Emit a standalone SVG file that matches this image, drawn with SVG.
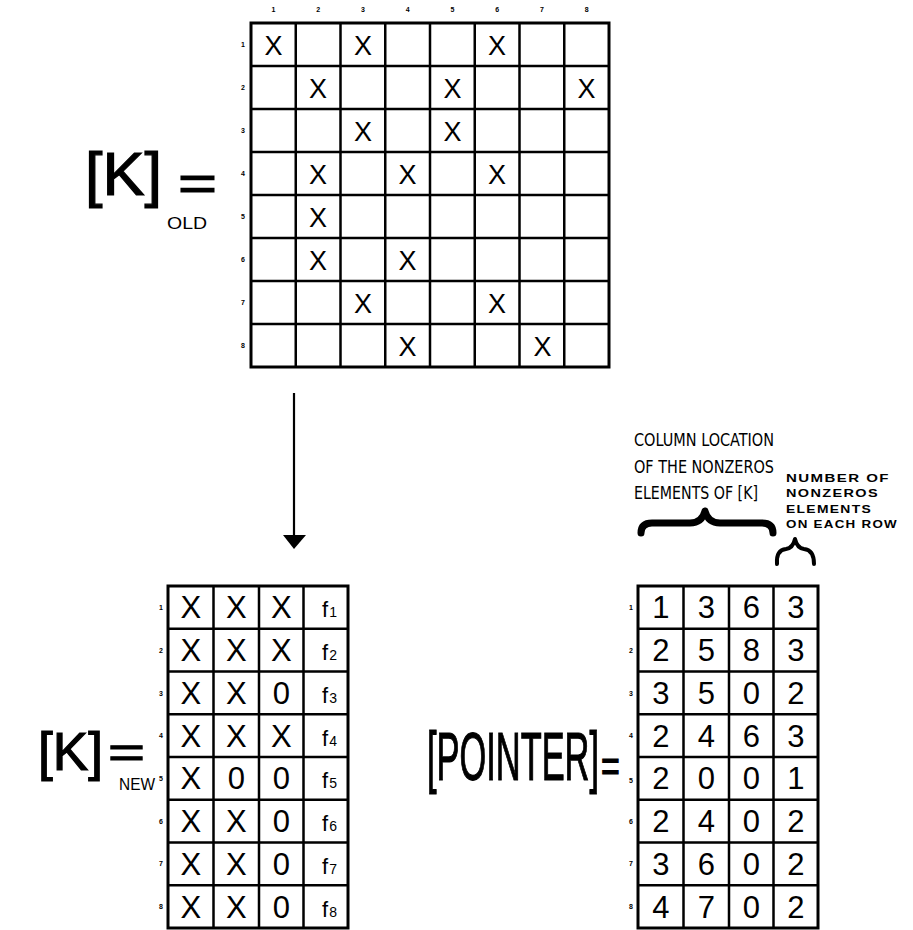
<svg xmlns="http://www.w3.org/2000/svg" width="913" height="930" viewBox="0 0 913 930">
<style>
text{font-family:"Liberation Sans",Arial,sans-serif;fill:#000}
.g{fill:none;stroke:#000;stroke-width:2.5}
.o{fill:none;stroke:#000;stroke-width:3}
.x{font-size:27px;text-anchor:middle}
.v{font-size:31px;text-anchor:middle}
.n{font-size:7px;font-weight:bold;text-anchor:middle}
.f{font-size:22px}
.s{font-size:14px}
.c{font-family:"DejaVu Sans Condensed","Liberation Sans",sans-serif;font-size:18px}
.w{font-size:10.5px;font-weight:bold;letter-spacing:1px}
.big{stroke:#000;stroke-width:1.2}
</style>

<g id="label-k-old">
<text class="big" x="85" y="195" font-size="62" textLength="77" lengthAdjust="spacingAndGlyphs">[K]</text>
<text class="big" x="178" y="200" font-size="50" textLength="39" lengthAdjust="spacingAndGlyphs">=</text>
<text x="167" y="229" font-size="16" textLength="40" lengthAdjust="spacingAndGlyphs">OLD</text>
</g>

<g id="k-old">
<rect class="o" x="251" y="23" width="358" height="344"/>
<path class="g" d="M295.75 23V367M340.5 23V367M385.25 23V367M430 23V367M474.75 23V367M519.5 23V367M564.25 23V367M251 66H609M251 109H609M251 152H609M251 195H609M251 238H609M251 281H609M251 324H609"/>
<g class="n">
<text x="273.4" y="12">1</text><text x="318.1" y="12">2</text><text x="362.9" y="12">3</text><text x="407.6" y="12">4</text><text x="452.4" y="12">5</text><text x="497.1" y="12">6</text><text x="541.9" y="12">7</text><text x="586.6" y="12">8</text>
<text x="243" y="47">1</text><text x="243" y="90">2</text><text x="243" y="133">3</text><text x="243" y="176">4</text><text x="243" y="219">5</text><text x="243" y="262">6</text><text x="243" y="305">7</text><text x="243" y="348">8</text>
</g>
<g class="x">
<text x="273.4" y="54.5">X</text><text x="362.9" y="54.5">X</text><text x="497.1" y="54.5">X</text>
<text x="318.1" y="97.5">X</text><text x="452.4" y="97.5">X</text><text x="586.6" y="97.5">X</text>
<text x="362.9" y="140.5">X</text><text x="452.4" y="140.5">X</text>
<text x="318.1" y="183.5">X</text><text x="407.6" y="183.5">X</text><text x="497.1" y="183.5">X</text>
<text x="318.1" y="226.5">X</text>
<text x="318.1" y="269.5">X</text><text x="407.6" y="269.5">X</text>
<text x="362.9" y="312.5">X</text><text x="497.1" y="312.5">X</text>
<text x="407.6" y="355.5">X</text><text x="542.4" y="355.5">X</text>
</g>
</g>

<g id="connectors">
<line x1="294" y1="393" x2="294" y2="536" stroke="#000" stroke-width="2.2"/>
<polygon points="283,535 306,535 294,549" fill="#000"/>
</g>

<g id="label-k-new">
<text class="big" x="38" y="770" font-size="54" textLength="65" lengthAdjust="spacingAndGlyphs">[K]</text>
<text class="big" x="108" y="767" font-size="45" textLength="37" lengthAdjust="spacingAndGlyphs">=</text>
<text x="119" y="790" font-size="16" textLength="36" lengthAdjust="spacingAndGlyphs">NEW</text>
</g>

<g id="k-new">
<rect class="o" x="168" y="586" width="180" height="342"/>
<path class="g" d="M213.5 586V928M259 586V928M303.5 586V928M168 628.75H348M168 671.5H348M168 714.25H348M168 757H348M168 799.75H348M168 842.5H348M168 885.25H348"/>
<g class="n">
<text x="161" y="610">1</text><text x="161" y="653">2</text><text x="161" y="696">3</text><text x="161" y="738">4</text><text x="161" y="781">5</text><text x="161" y="824">6</text><text x="161" y="866">7</text><text x="161" y="909">8</text>
</g>
<g class="v">
<text x="190.75" y="618">X</text><text x="236.25" y="618">X</text><text x="281.25" y="618">X</text>
<text x="190.75" y="661">X</text><text x="236.25" y="661">X</text><text x="281.25" y="661">X</text>
<text x="190.75" y="704">X</text><text x="236.25" y="704">X</text><text x="281.25" y="704">0</text>
<text x="190.75" y="747">X</text><text x="236.25" y="747">X</text><text x="281.25" y="747">X</text>
<text x="190.75" y="789">X</text><text x="236.25" y="789">0</text><text x="281.25" y="789">0</text>
<text x="190.75" y="832">X</text><text x="236.25" y="832">X</text><text x="281.25" y="832">0</text>
<text x="190.75" y="875">X</text><text x="236.25" y="875">X</text><text x="281.25" y="875">0</text>
<text x="190.75" y="918">X</text><text x="236.25" y="918">X</text><text x="281.25" y="918">0</text>
</g>
<g class="f">
<text x="322" y="617">f<tspan class="s" dx="1">1</tspan></text>
<text x="322" y="660">f<tspan class="s" dx="1">2</tspan></text>
<text x="322" y="703">f<tspan class="s" dx="1">3</tspan></text>
<text x="322" y="746">f<tspan class="s" dx="1">4</tspan></text>
<text x="322" y="788">f<tspan class="s" dx="1">5</tspan></text>
<text x="322" y="831">f<tspan class="s" dx="1">6</tspan></text>
<text x="322" y="874">f<tspan class="s" dx="1">7</tspan></text>
<text x="322" y="917">f<tspan class="s" dx="1">8</tspan></text>
</g>
</g>

<g id="label-pointer">
<text class="big" transform="translate(427,780) scale(0.506,1)" font-size="68">[POINTER]</text>
<text class="big" transform="translate(601,782) scale(0.7,1)" font-size="46">=</text>
</g>

<g id="pointer">
<rect class="o" x="638" y="586" width="180" height="342"/>
<path class="g" d="M683.5 586V928M729 586V928M773.5 586V928M638 628.75H818M638 671.5H818M638 714.25H818M638 757H818M638 799.75H818M638 842.5H818M638 885.25H818"/>
<g class="n">
<text x="631" y="610">1</text><text x="631" y="653">2</text><text x="631" y="696">3</text><text x="631" y="738">4</text><text x="631" y="783">5</text><text x="631" y="824">6</text><text x="631" y="866">7</text><text x="631" y="909">8</text>
</g>
<g class="v">
<text x="660.75" y="618">1</text><text x="706.25" y="618">3</text><text x="751.25" y="618">6</text><text x="795.75" y="618">3</text>
<text x="660.75" y="661">2</text><text x="706.25" y="661">5</text><text x="751.25" y="661">8</text><text x="795.75" y="661">3</text>
<text x="660.75" y="704">3</text><text x="706.25" y="704">5</text><text x="751.25" y="704">0</text><text x="795.75" y="704">2</text>
<text x="660.75" y="747">2</text><text x="706.25" y="747">4</text><text x="751.25" y="747">6</text><text x="795.75" y="747">3</text>
<text x="660.75" y="789">2</text><text x="706.25" y="789">0</text><text x="751.25" y="789">0</text><text x="795.75" y="789">1</text>
<text x="660.75" y="832">2</text><text x="706.25" y="832">4</text><text x="751.25" y="832">0</text><text x="795.75" y="832">2</text>
<text x="660.75" y="875">3</text><text x="706.25" y="875">6</text><text x="751.25" y="875">0</text><text x="795.75" y="875">2</text>
<text x="660.75" y="918">4</text><text x="706.25" y="918">7</text><text x="751.25" y="918">0</text><text x="795.75" y="918">2</text>
</g>
</g>

<g id="annotation-columns">
<text class="c" x="634" y="446" textLength="140" lengthAdjust="spacingAndGlyphs">COLUMN LOCATION</text>
<text class="c" x="634" y="473" textLength="140" lengthAdjust="spacingAndGlyphs">OF THE NONZEROS</text>
<text class="c" x="634" y="499" textLength="124" lengthAdjust="spacingAndGlyphs">ELEMENTS OF [K]</text>
<path d="M641 533 Q641 523 652 523 L690 523 Q702 523 705 511 Q708 523 720 523 L762 523 Q773 523 773 533" fill="none" stroke="#000" stroke-width="7" stroke-linecap="round" stroke-linejoin="round"/>
</g>

<g id="annotation-count">
<text class="w" x="786" y="482" textLength="104" lengthAdjust="spacingAndGlyphs">NUMBER OF</text>
<text class="w" x="786" y="497" textLength="93" lengthAdjust="spacingAndGlyphs">NONZEROS</text>
<text class="w" x="786" y="513" textLength="86" lengthAdjust="spacingAndGlyphs">ELEMENTS</text>
<text class="w" x="786" y="528" textLength="112" lengthAdjust="spacingAndGlyphs">ON EACH ROW</text>
<path d="M777 564 Q776 550 786 549 Q793 548 795 539 Q797 548 804 549 Q814 550 814 564" fill="none" stroke="#000" stroke-width="4" stroke-linecap="round" stroke-linejoin="round"/>
</g>
</svg>
